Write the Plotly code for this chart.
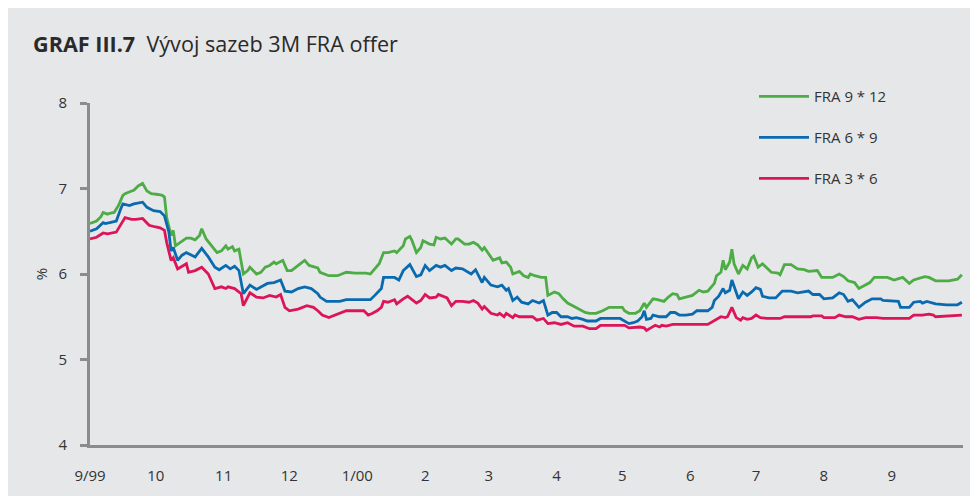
import pandas as pd
import plotly.graph_objects as go

START = pd.Timestamp("1999-09-01")

# days since 1 Sep 1999 and rates in %
green_days = [0,3,5,6,8,9,11,13,15,16,19,20,22,24,26,28,31,33,34,35,37,38,39,41,44,46,48,50,51,53,56,58,60,62,63,65,66,68,70,72,73,76,78,80,82,84,85,88,90,92,94,98,100,104,105,109,113,117,121,126,128,130,132,134,136,139,140,143,144,146,147,149,151,152,155,157,158,160,162,165,167,168,171,173,175,177,179,180,182,184,186,187,188,190,192,193,196,198,200,201,203,206,208,209,212,214,216,218,221,224,226,228,231,234,237,243,244,246,249,251,253,254,257,259,262,264,266,268,269,272,275,278,280,282,285,286,288,289,290,292,293,294,296,298,300,302,303,305,307,309,311,314,315,317,320,323,326,328,332,334,339,342,344,346,349,351,354,356,358,364,367,371,374,376,381,383,386,392,396,398]
green_vals = [6.59,6.62,6.67,6.72,6.70,6.71,6.72,6.80,6.92,6.94,6.97,6.98,7.03,7.06,6.97,6.94,6.93,6.92,6.90,6.66,6.45,6.51,6.33,6.37,6.42,6.42,6.40,6.45,6.53,6.41,6.31,6.25,6.27,6.33,6.29,6.32,6.27,6.29,6.00,6.04,6.08,6.00,6.02,6.08,6.10,6.14,6.12,6.16,6.04,6.04,6.08,6.16,6.10,6.07,6.02,5.98,5.98,6.02,6.01,6.01,6.00,6.06,6.12,6.25,6.25,6.27,6.25,6.33,6.41,6.44,6.39,6.25,6.31,6.39,6.35,6.34,6.43,6.41,6.42,6.35,6.41,6.41,6.35,6.35,6.37,6.34,6.28,6.31,6.24,6.16,6.18,6.19,6.13,6.14,6.08,6.00,6.03,5.98,5.96,6.00,5.98,5.96,5.96,5.75,5.79,5.77,5.71,5.66,5.62,5.58,5.55,5.54,5.54,5.57,5.61,5.61,5.57,5.54,5.54,5.57,5.66,5.61,5.71,5.70,5.68,5.73,5.77,5.76,5.71,5.73,5.75,5.81,5.79,5.80,5.89,5.98,6.02,6.16,6.05,6.14,6.29,6.12,6.00,6.10,6.06,6.19,6.21,6.08,6.12,6.07,6.02,6.01,5.99,6.11,6.11,6.06,6.05,6.03,6.04,5.96,5.96,6.00,5.97,5.92,5.90,5.83,5.87,5.90,5.96,5.96,5.93,5.96,5.89,5.93,5.97,5.96,5.92,5.92,5.94,5.99]

blue_days = [0,3,6,7,9,12,14,15,18,20,24,26,29,32,34,36,37,38,40,42,44,46,48,51,54,57,59,62,64,66,68,70,73,76,78,81,84,87,89,92,95,98,101,104,105,108,114,117,126,128,130,133,134,136,139,141,143,146,147,149,151,153,155,158,160,162,165,167,170,172,174,176,177,179,180,183,186,188,190,191,193,195,197,200,202,205,207,209,211,213,215,218,220,222,225,227,231,233,242,244,246,248,250,252,253,254,256,257,260,263,265,267,269,272,275,277,282,284,285,287,289,290,292,293,295,296,298,300,302,304,306,307,310,313,316,320,323,328,330,333,335,339,342,344,346,348,351,354,357,361,362,369,370,374,376,379,380,382,386,391,396,398]
blue_vals = [6.50,6.53,6.60,6.59,6.60,6.62,6.76,6.82,6.80,6.82,6.84,6.78,6.74,6.73,6.68,6.49,6.27,6.31,6.16,6.22,6.25,6.22,6.20,6.30,6.20,6.08,6.05,6.10,6.06,6.09,6.04,5.77,5.87,5.82,5.85,5.89,5.90,5.93,5.80,5.79,5.83,5.85,5.83,5.77,5.73,5.68,5.68,5.70,5.70,5.70,5.75,5.83,5.96,5.96,5.96,5.93,6.04,6.11,6.06,5.97,5.99,6.10,6.04,6.10,6.08,6.10,6.04,6.07,6.06,6.03,6.00,6.05,6.00,5.90,5.96,5.87,5.85,5.87,5.81,5.83,5.69,5.73,5.67,5.65,5.69,5.66,5.69,5.52,5.55,5.55,5.50,5.50,5.48,5.49,5.47,5.45,5.45,5.48,5.48,5.45,5.42,5.43,5.45,5.50,5.57,5.47,5.48,5.52,5.50,5.50,5.55,5.55,5.52,5.52,5.53,5.57,5.57,5.61,5.69,5.74,5.83,5.78,5.81,5.93,5.79,5.71,5.79,5.75,5.79,5.84,5.82,5.74,5.72,5.72,5.80,5.80,5.78,5.80,5.76,5.76,5.71,5.72,5.78,5.76,5.68,5.70,5.61,5.67,5.71,5.71,5.69,5.68,5.61,5.61,5.67,5.68,5.66,5.68,5.65,5.64,5.64,5.67]

red_days = [0,3,6,8,12,14,16,19,21,24,27,30,32,34,35,37,38,40,42,44,45,48,51,54,57,60,62,63,66,69,70,73,76,79,82,85,87,89,91,95,99,102,104,106,109,112,114,117,120,125,127,129,131,133,134,136,139,140,143,145,147,149,151,153,155,158,159,161,163,165,167,170,173,175,177,179,180,183,186,187,189,190,193,194,196,199,202,204,207,209,212,215,218,221,225,228,231,233,244,246,251,253,254,256,258,260,261,263,266,282,285,288,290,291,293,295,297,298,300,302,304,306,309,315,317,329,330,334,335,340,342,345,348,351,354,359,362,374,376,380,383,385,386,398]
red_vals = [6.41,6.43,6.48,6.47,6.49,6.57,6.66,6.64,6.64,6.65,6.57,6.55,6.54,6.51,6.37,6.16,6.19,6.06,6.09,6.12,6.02,6.04,6.08,6.00,5.83,5.85,5.83,5.85,5.83,5.77,5.63,5.78,5.73,5.72,5.75,5.73,5.76,5.61,5.57,5.59,5.63,5.61,5.57,5.52,5.49,5.52,5.54,5.57,5.57,5.57,5.52,5.54,5.57,5.61,5.68,5.67,5.70,5.65,5.71,5.74,5.70,5.66,5.69,5.76,5.72,5.73,5.76,5.74,5.72,5.63,5.68,5.68,5.67,5.69,5.66,5.59,5.62,5.54,5.52,5.54,5.50,5.54,5.49,5.52,5.50,5.50,5.50,5.46,5.48,5.42,5.43,5.41,5.43,5.39,5.39,5.36,5.36,5.40,5.40,5.37,5.38,5.37,5.34,5.37,5.40,5.38,5.40,5.39,5.41,5.41,5.45,5.50,5.49,5.50,5.61,5.49,5.46,5.49,5.47,5.48,5.52,5.49,5.48,5.48,5.50,5.50,5.51,5.51,5.49,5.49,5.52,5.50,5.50,5.47,5.49,5.49,5.48,5.48,5.52,5.52,5.53,5.52,5.50,5.52]

tick_dates = ["1999-09-01","1999-10-01","1999-11-01","1999-12-01","2000-01-01","2000-02-01",
              "2000-03-01","2000-04-01","2000-05-01","2000-06-01","2000-07-01","2000-08-01","2000-09-01"]
tick_labels = ["9/99","10","11","12","1/00","2","3","4","5","6","7","8","9"]

series = [
    ("FRA 9 * 12", green_days, green_vals, "#4dac45"),
    ("FRA 6 * 9", blue_days, blue_vals, "#0a6ab0"),
    ("FRA 3 * 6", red_days, red_vals, "#dc1559"),
]

FONT = "Open Sans"
AXIS = "#8c8c8c"
BG = "#e6e7e9"

fig = go.Figure()
for name, days, vals, color in series:
    fig.add_trace(go.Scatter(
        x=[START + pd.Timedelta(days=d) for d in days], y=vals, mode="lines", name=name,
        legendgroup=name, line=dict(color=color, width=2.8)))

fig.update_layout(
    width=978, height=496,
    margin=dict(l=82, r=23, t=95, b=59),
    paper_bgcolor=BG, plot_bgcolor=BG,
    font=dict(family=FONT, size=15, color="#333333"),
    title=dict(text="<b>GRAF III.7</b>&nbsp;&nbsp;Vývoj sazeb 3M FRA offer",
               x=25/978, xref="container", xanchor="left",
               y=1-36/496, yref="container", yanchor="middle",
               font=dict(family=FONT, size=21.6, color="#2a2a2a")),
    showlegend=True,
    legend=dict(x=0.7606, y=1.067, xanchor="left", yanchor="top",
                bgcolor="rgba(0,0,0,0)", font=dict(size=15, color="#333333"),
                tracegroupgap=18.5, itemwidth=50, traceorder="grouped"),
    xaxis=dict(type="date", range=["1999-09-01", "2000-10-03 12:00"],
               tickvals=tick_dates, ticktext=tick_labels, showgrid=False, zeroline=False,
               showline=True, linecolor=AXIS, linewidth=3, ticks="", ticklabelstandoff=15),
    yaxis=dict(range=[4, 8], tickvals=[4, 5, 6, 7, 8], showgrid=False, zeroline=False,
               showline=True, linecolor=AXIS, linewidth=3, ticks="outside", ticklen=7,
               tickwidth=3, tickcolor=AXIS, ticklabelstandoff=10,
               title=dict(text="%", standoff=8, font=dict(size=15))),
)

fig.write_html("out.html")
